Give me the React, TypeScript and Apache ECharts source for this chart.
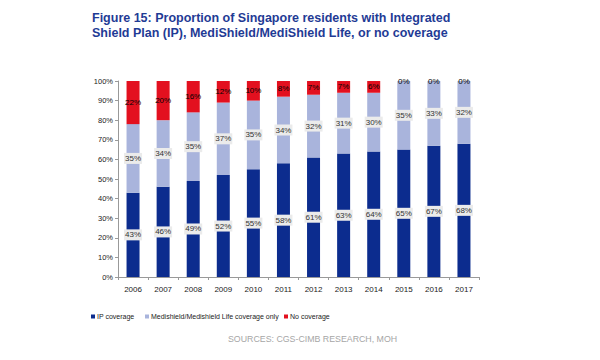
import React, { useEffect, useRef } from "react";
import * as echarts from "echarts";

const years = ["2006", "2007", "2008", "2009", "2010", "2011", "2012", "2013", "2014", "2015", "2016", "2017"];
const ipCoverage = [43, 46, 49, 52, 55, 58, 61, 63, 64, 65, 67, 68];
const medishieldOnly = [35, 34, 35, 37, 35, 34, 32, 31, 30, 35, 33, 32];
const noCoverage = [22, 20, 16, 12, 10, 8, 7, 7, 6, 0, 0, 0];
const legendNames = ["IP coverage", "Medishield/Medishield Life coverage only", "No coverage"];

const FONT = "'Liberation Sans Narrow', 'Liberation Sans', Arial, sans-serif";

export default function App() {
  const ref = useRef<HTMLDivElement>(null);
  useEffect(() => {
    if (!ref.current) return;
    const chart = echarts.init(ref.current, undefined, { renderer: "svg" });
    const boxLabel = {
      show: true,
      position: "inside",
      formatter: "{c}%",
      color: "#333",
      fontFamily: FONT,
      fontSize: 8,
      backgroundColor: "#ebebeb",
      padding: [2, 1, 1, 1],
    };
    const legendBase = {
      top: 313,
      padding: 0,
      icon: "rect",
      itemWidth: 4,
      itemHeight: 4,
      textStyle: { fontFamily: FONT, fontSize: 7, color: "#222", padding: [0, 0, 0, -3] },
    };
    chart.setOption({
      animation: false,
      title: {
        text: "Figure 15: Proportion of Singapore residents with Integrated\nShield Plan (IP), MediShield/MediShield Life, or no coverage",
        left: 92,
        top: 10,
        padding: 0,
        textStyle: {
          color: "#1f3b95",
          fontSize: 12.5,
          fontWeight: "bold",
          fontFamily: "'Liberation Sans', Arial, sans-serif",
          lineHeight: 15.5,
        },
      },
      legend: [
        { ...legendBase, left: 91, data: [legendNames[0]] },
        { ...legendBase, left: 145, data: [legendNames[1]] },
        { ...legendBase, left: 284, data: [legendNames[2]] },
      ],
      graphic: [
        {
          type: "text",
          left: 228,
          top: 334,
          style: {
            text: "SOURCES: CGS-CIMB RESEARCH, MOH",
            fill: "#a6a6a6",
            font: "8.8px 'Liberation Sans', Arial, sans-serif",
          },
        },
      ],
      grid: { left: 118, right: 121, top: 81, bottom: 83 },
      xAxis: {
        type: "category",
        data: years,
        axisLine: { lineStyle: { color: "#999" } },
        axisTick: { show: true, length: 3, lineStyle: { color: "#999" } },
        axisLabel: { fontFamily: FONT, fontSize: 8, color: "#222", margin: 8 },
      },
      yAxis: {
        type: "value",
        min: 0,
        max: 100,
        interval: 10,
        splitLine: { show: false },
        axisLine: { show: true, lineStyle: { color: "#999" } },
        axisTick: { show: true, length: 3, lineStyle: { color: "#999" } },
        axisLabel: {
          fontFamily: FONT,
          fontSize: 7.5,
          color: "#222",
          margin: 5,
          formatter: (v: number) => v + "%",
        },
      },
      series: [
        {
          name: legendNames[0],
          type: "bar",
          stack: "a",
          barWidth: 13,
          data: ipCoverage,
          itemStyle: { color: "#0c2c8e" },
          label: boxLabel,
        },
        {
          name: legendNames[1],
          type: "bar",
          stack: "a",
          data: medishieldOnly,
          itemStyle: { color: "#a9b4dc" },
          label: boxLabel,
        },
        {
          name: legendNames[2],
          type: "bar",
          stack: "a",
          data: noCoverage,
          itemStyle: { color: "#e3101f" },
          label: {
            show: true,
            position: "inside",
            formatter: (p: any) => p.value + "%",
            fontFamily: FONT,
            fontSize: 8,
            color: (p: any) => (p.value === 0 ? "#44506e" : "#7a1414"),
          },
        },
      ],
    });
    return () => chart.dispose();
  }, []);
  return <div ref={ref} style={{ position: "absolute", left: 0, top: 0, width: 600, height: 360 }} />;
}
